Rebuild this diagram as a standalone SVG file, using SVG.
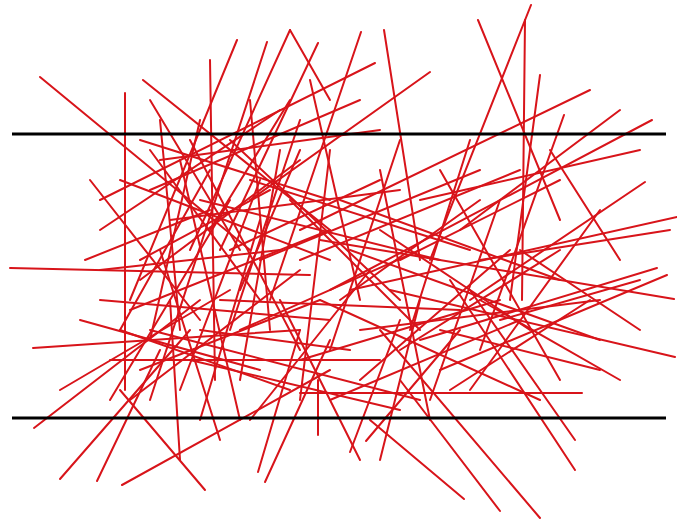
<svg xmlns="http://www.w3.org/2000/svg" width="677" height="522" viewBox="0 0 677 522">
<style>
.n line{stroke:#d8141a;stroke-width:2;stroke-linecap:round}
.b{stroke:#000;stroke-width:3}
</style>
<rect width="677" height="522" fill="#fff"/>
<g id="needles" class="n">
<line x1="40" y1="77" x2="250" y2="250"/>
<line x1="125" y1="93" x2="125" y2="390"/>
<line x1="10" y1="268" x2="310" y2="275"/>
<line x1="33" y1="348" x2="300" y2="330"/>
<line x1="34" y1="428" x2="200" y2="300"/>
<line x1="60" y1="479" x2="190" y2="330"/>
<line x1="97" y1="481" x2="160" y2="350"/>
<line x1="122" y1="485" x2="330" y2="370"/>
<line x1="205" y1="490" x2="120" y2="390"/>
<line x1="143" y1="80" x2="330" y2="230"/>
<line x1="210" y1="60" x2="215" y2="380"/>
<line x1="237" y1="40" x2="130" y2="300"/>
<line x1="267" y1="42" x2="150" y2="400"/>
<line x1="290" y1="30" x2="190" y2="250"/>
<line x1="290" y1="30" x2="330" y2="100"/>
<line x1="318" y1="43" x2="220" y2="250"/>
<line x1="361" y1="32" x2="270" y2="300"/>
<line x1="384" y1="30" x2="420" y2="260"/>
<line x1="375" y1="63" x2="100" y2="200"/>
<line x1="430" y1="72" x2="250" y2="200"/>
<line x1="478" y1="20" x2="560" y2="220"/>
<line x1="531" y1="5" x2="430" y2="260"/>
<line x1="525" y1="20" x2="522" y2="300"/>
<line x1="540" y1="75" x2="510" y2="300"/>
<line x1="590" y1="90" x2="300" y2="230"/>
<line x1="564" y1="115" x2="480" y2="350"/>
<line x1="652" y1="120" x2="330" y2="290"/>
<line x1="645" y1="182" x2="470" y2="300"/>
<line x1="677" y1="217" x2="350" y2="290"/>
<line x1="675" y1="357" x2="390" y2="290"/>
<line x1="657" y1="268" x2="420" y2="340"/>
<line x1="667" y1="275" x2="440" y2="370"/>
<line x1="674" y1="299" x2="320" y2="240"/>
<line x1="582" y1="393" x2="300" y2="393"/>
<line x1="575" y1="470" x2="450" y2="280"/>
<line x1="575" y1="440" x2="470" y2="290"/>
<line x1="540" y1="518" x2="380" y2="330"/>
<line x1="500" y1="511" x2="400" y2="380"/>
<line x1="464" y1="499" x2="370" y2="420"/>
<line x1="350" y1="452" x2="400" y2="320"/>
<line x1="366" y1="441" x2="460" y2="330"/>
<line x1="258" y1="472" x2="300" y2="330"/>
<line x1="265" y1="482" x2="330" y2="340"/>
<line x1="318" y1="435" x2="318" y2="380"/>
<line x1="140" y1="140" x2="330" y2="200"/>
<line x1="150" y1="190" x2="360" y2="100"/>
<line x1="100" y1="230" x2="280" y2="110"/>
<line x1="130" y1="310" x2="330" y2="230"/>
<line x1="160" y1="250" x2="220" y2="440"/>
<line x1="180" y1="160" x2="240" y2="420"/>
<line x1="200" y1="120" x2="150" y2="340"/>
<line x1="230" y1="140" x2="400" y2="300"/>
<line x1="250" y1="180" x2="470" y2="250"/>
<line x1="260" y1="220" x2="200" y2="420"/>
<line x1="280" y1="150" x2="240" y2="380"/>
<line x1="300" y1="260" x2="520" y2="170"/>
<line x1="330" y1="150" x2="300" y2="400"/>
<line x1="340" y1="200" x2="560" y2="280"/>
<line x1="350" y1="250" x2="600" y2="340"/>
<line x1="380" y1="170" x2="430" y2="420"/>
<line x1="400" y1="140" x2="330" y2="350"/>
<line x1="420" y1="200" x2="640" y2="150"/>
<line x1="440" y1="170" x2="560" y2="380"/>
<line x1="460" y1="230" x2="620" y2="110"/>
<line x1="480" y1="260" x2="670" y2="230"/>
<line x1="500" y1="200" x2="430" y2="400"/>
<line x1="100" y1="300" x2="330" y2="320"/>
<line x1="110" y1="360" x2="380" y2="360"/>
<line x1="130" y1="400" x2="300" y2="270"/>
<line x1="150" y1="330" x2="420" y2="400"/>
<line x1="170" y1="300" x2="180" y2="460"/>
<line x1="190" y1="360" x2="400" y2="410"/>
<line x1="220" y1="300" x2="460" y2="310"/>
<line x1="240" y1="330" x2="420" y2="250"/>
<line x1="280" y1="300" x2="360" y2="460"/>
<line x1="300" y1="360" x2="500" y2="300"/>
<line x1="320" y1="300" x2="540" y2="400"/>
<line x1="360" y1="330" x2="600" y2="300"/>
<line x1="400" y1="350" x2="560" y2="250"/>
<line x1="420" y1="300" x2="380" y2="460"/>
<line x1="150" y1="150" x2="260" y2="300"/>
<line x1="90" y1="180" x2="200" y2="320"/>
<line x1="85" y1="260" x2="210" y2="210"/>
<line x1="110" y1="400" x2="230" y2="200"/>
<line x1="200" y1="200" x2="440" y2="260"/>
<line x1="260" y1="260" x2="480" y2="170"/>
<line x1="480" y1="300" x2="620" y2="380"/>
<line x1="330" y1="400" x2="520" y2="320"/>
<line x1="250" y1="420" x2="370" y2="270"/>
<line x1="170" y1="220" x2="400" y2="190"/>
<line x1="310" y1="80" x2="360" y2="300"/>
<line x1="150" y1="100" x2="240" y2="250"/>
<line x1="500" y1="320" x2="640" y2="280"/>
<line x1="120" y1="180" x2="330" y2="260"/>
<line x1="140" y1="280" x2="300" y2="160"/>
<line x1="160" y1="120" x2="180" y2="330"/>
<line x1="190" y1="140" x2="300" y2="350"/>
<line x1="210" y1="170" x2="120" y2="330"/>
<line x1="230" y1="250" x2="380" y2="180"/>
<line x1="250" y1="100" x2="270" y2="330"/>
<line x1="270" y1="190" x2="140" y2="260"/>
<line x1="120" y1="330" x2="290" y2="390"/>
<line x1="140" y1="370" x2="320" y2="300"/>
<line x1="180" y1="390" x2="260" y2="180"/>
<line x1="200" y1="330" x2="350" y2="350"/>
<line x1="290" y1="200" x2="420" y2="330"/>
<line x1="300" y1="120" x2="230" y2="330"/>
<line x1="340" y1="300" x2="480" y2="200"/>
<line x1="360" y1="380" x2="510" y2="250"/>
<line x1="440" y1="330" x2="600" y2="370"/>
<line x1="450" y1="390" x2="590" y2="300"/>
<line x1="520" y1="250" x2="640" y2="330"/>
<line x1="80" y1="320" x2="260" y2="370"/>
<line x1="60" y1="390" x2="230" y2="290"/>
<line x1="100" y1="270" x2="280" y2="250"/>
<line x1="160" y1="160" x2="380" y2="130"/>
<line x1="210" y1="230" x2="290" y2="100"/>
<line x1="240" y1="290" x2="300" y2="150"/>
<line x1="380" y1="230" x2="530" y2="330"/>
<line x1="400" y1="260" x2="560" y2="180"/>
<line x1="470" y1="140" x2="410" y2="330"/>
<line x1="550" y1="150" x2="620" y2="260"/>
<line x1="600" y1="210" x2="470" y2="390"/>
</g>
<g id="guides">
<line class="b" x1="12" y1="134" x2="666" y2="134"/>
<line class="b" x1="12" y1="418" x2="666" y2="418"/>
</g>
</svg>
